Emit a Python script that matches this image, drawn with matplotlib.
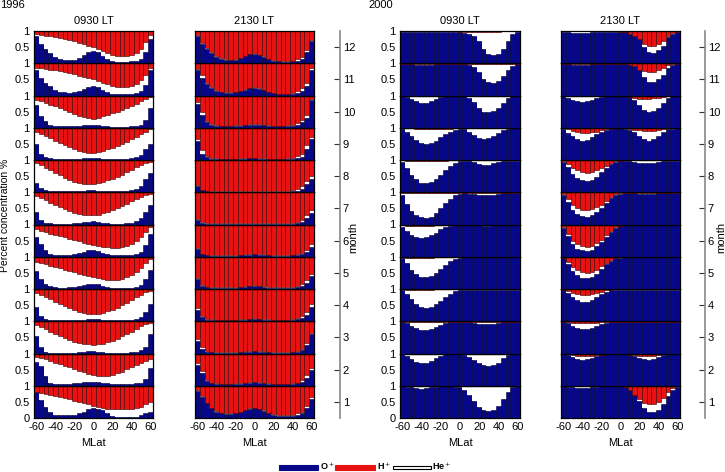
import numpy as np
import matplotlib.pyplot as plt
from matplotlib.patches import Rectangle

plt.rcParams['font.family'] = ['Liberation Sans', 'DejaVu Sans']
plt.rcParams['font.size'] = 8
plt.rcParams['axes.unicode_minus'] = False

mlat = np.arange(-60, 61, 5)
months = list(range(1, 13))

# ion percentages per month (Jan first), He+ is what is left over
o_1996_0930 = [
    [80,55,35,20,10,8,8,8,10,14,20,27,32,28,24,15,5,3,2,2,2,4,10,15,20],
    [75,60,30,10,6,5,5,6,8,10,12,12,12,11,9,7,5,4,4,5,6,8,10,20,55],
    [55,20,5,3,3,3,3,3,3,4,5,7,8,6,4,3,3,3,3,3,4,6,10,20,60],
    [45,15,6,4,3,3,3,3,3,4,5,6,7,6,5,4,3,3,3,3,4,6,12,30,55],
    [55,30,15,8,5,4,4,5,6,9,12,15,16,14,10,6,4,3,3,3,4,6,12,30,60],
    [60,40,20,10,6,5,5,6,8,12,16,20,22,18,12,8,5,4,4,4,5,8,15,35,70],
    [40,15,6,4,3,3,3,3,4,5,7,9,10,8,6,4,3,3,3,4,6,10,20,40,60],
    [30,12,6,4,3,3,3,3,3,4,5,6,6,5,4,3,3,3,3,4,6,10,20,40,60],
    [50,20,8,5,4,3,3,3,3,4,5,6,6,5,4,3,3,3,3,4,5,8,15,35,50],
    [70,35,20,10,6,5,5,5,5,6,8,9,10,8,6,4,3,3,3,3,4,6,10,25,60],
    [78,55,40,28,18,12,10,9,10,14,20,26,30,27,18,10,6,5,5,5,6,8,14,32,80],
    [84,60,45,32,20,14,10,9,10,15,25,35,38,35,22,12,8,5,5,5,6,8,12,35,75],
]
h_1996_0930 = [
    [20,23,26,29,32,35,38,42,46,50,54,58,62,66,69,71,73,73,73,73,72,70,65,58,50],
    [10,14,18,23,28,33,38,43,48,53,58,63,67,70,71,70,67,62,56,49,42,35,28,22,18],
    [12,18,25,32,39,46,52,58,63,67,70,72,73,72,69,65,60,54,47,40,32,24,16,10,5],
    [12,18,25,32,39,46,53,59,65,70,74,76,77,76,73,69,64,58,51,43,35,26,18,10,5],
    [15,20,24,28,32,36,40,44,48,52,56,60,63,66,69,71,72,71,68,63,56,46,34,20,8],
    [15,20,24,28,32,36,40,44,48,52,56,60,63,66,69,71,72,72,70,66,60,50,38,22,8],
    [12,18,25,33,40,47,53,59,64,68,71,72,71,69,65,60,54,48,42,35,28,20,14,10,5],
    [10,16,24,32,40,48,55,61,67,71,74,75,74,72,68,63,58,52,45,38,30,22,15,10,5],
    [12,18,25,32,40,47,54,60,66,71,75,78,78,76,72,67,62,56,50,43,36,28,20,12,5],
    [14,17,22,28,34,40,46,52,58,63,68,71,73,70,65,60,55,50,45,38,32,25,18,12,5],
    [15,16,18,20,22,25,28,31,34,38,42,46,50,55,60,65,70,73,75,74,70,64,52,35,15],
    [10,12,15,17,20,23,26,29,32,36,40,45,50,56,62,68,73,77,78,77,73,67,55,35,12],
]

o_1996_2130 = [
    [85,65,45,30,20,14,12,12,14,18,24,28,30,27,22,15,10,7,6,6,7,10,15,30,60],
    [65,40,15,8,5,4,4,4,5,6,8,10,11,10,8,6,4,4,4,4,5,7,12,25,50],
    [40,15,6,4,3,3,3,3,3,4,5,6,7,6,5,4,3,3,3,3,4,6,10,25,60],
    [35,12,5,4,3,3,3,3,3,4,5,6,7,6,5,4,3,3,3,3,4,6,10,20,45],
    [30,10,5,4,3,3,3,3,4,5,6,8,9,8,6,4,3,3,3,3,4,6,10,20,40],
    [25,8,4,3,3,3,3,3,3,4,5,6,7,6,5,4,3,3,3,3,4,5,8,15,30],
    [15,5,3,2,2,2,2,2,2,2,2,2,2,2,2,2,2,2,2,2,3,5,8,20,35],
    [20,6,3,2,2,2,2,2,2,2,2,2,2,2,2,2,2,2,2,2,3,5,10,25,40],
    [60,20,8,4,3,2,2,2,2,3,4,5,5,4,3,2,2,2,2,3,4,6,10,35,65],
    [75,40,18,8,5,4,4,4,5,6,8,9,10,9,7,5,4,4,4,5,6,10,17,30,85],
    [80,55,35,22,14,10,9,9,10,14,18,22,24,21,16,10,7,5,5,5,6,9,15,30,80],
    [85,60,45,32,20,14,11,10,11,16,22,28,30,26,20,12,8,6,5,5,6,8,12,35,70],
]
h_1996_2130 = [
    [12,32,53,68,78,84,86,86,84,80,74,70,68,71,76,83,88,91,92,92,90,86,80,64,35],
    [30,55,82,90,93,94,94,94,93,92,90,88,87,88,90,92,94,94,94,94,93,90,83,68,45],
    [55,80,92,94,95,95,95,95,95,94,93,92,91,92,93,94,95,95,95,95,94,91,85,68,35],
    [60,84,93,94,95,95,95,95,95,94,93,92,91,92,93,94,95,95,95,95,94,91,85,72,48],
    [66,87,93,94,95,95,95,95,94,93,92,90,89,90,92,94,95,95,95,95,94,91,85,72,52],
    [72,90,94,95,95,95,95,95,95,94,93,92,91,92,93,94,95,95,95,95,94,92,88,78,62],
    [83,93,95,96,96,96,96,96,96,96,96,96,96,96,96,96,96,96,96,95,94,92,85,70,55],
    [78,92,95,96,96,96,96,96,96,96,96,96,96,96,96,96,96,96,96,95,94,90,82,65,50],
    [35,70,88,94,95,96,96,96,96,95,94,93,93,94,95,96,96,96,96,95,93,88,80,55,30],
    [20,52,78,89,93,94,94,94,93,92,90,89,88,89,91,93,94,94,94,93,91,85,76,62,12],
    [17,37,60,75,84,89,90,90,89,85,81,77,75,78,83,89,92,94,94,94,92,86,77,60,15],
    [13,38,53,66,78,85,88,89,88,83,77,71,69,73,79,87,91,93,94,94,92,88,82,58,27],
]

o_2000_0930 = [
    [98,97,95,92,90,92,95,97,98,98,98,97,95,88,72,52,35,25,22,25,38,60,82,95,98],
    [98,92,82,74,70,72,78,86,93,97,98,98,98,96,90,80,70,63,60,63,72,85,94,98,98],
    [98,95,86,78,74,73,76,82,88,94,97,98,98,98,97,95,92,90,90,92,95,97,98,98,98],
    [96,84,68,55,45,42,45,52,62,74,85,93,97,98,98,97,97,96,96,97,98,98,98,98,98],
    [95,80,60,45,38,36,40,50,62,75,86,94,97,98,98,98,98,98,98,98,98,98,98,98,98],
    [92,80,68,62,58,60,66,75,85,92,96,97,98,98,98,98,97,96,96,97,98,98,98,98,98],
    [92,65,42,28,22,20,24,35,50,66,80,90,96,97,96,95,92,90,91,93,96,97,98,98,98],
    [95,75,55,40,30,28,32,42,55,70,82,92,96,97,96,93,88,85,86,90,95,97,98,98,98],
    [97,88,75,62,52,49,52,60,70,80,88,94,96,95,88,78,68,65,68,75,85,93,97,98,98],
    [98,95,88,82,78,78,82,88,94,97,98,98,98,97,92,80,62,50,48,52,62,78,92,97,98],
    [98,98,97,96,95,95,96,97,98,98,98,98,98,97,95,88,72,52,42,40,45,60,80,93,98],
    [98,98,98,97,96,96,97,98,98,98,98,98,97,95,92,85,68,45,30,27,30,45,70,90,98],
]
h_2000_0930 = [
    [1,1,1,1,1,1,1,1,1,1,1,1,2,2,2,2,2,2,2,2,1,1,1,1,1],
    [1,1,1,1,1,1,1,1,1,1,1,1,1,1,1,1,1,1,1,1,1,1,1,1,1],
    [1,1,1,1,1,1,1,1,1,1,1,1,1,1,1,1,1,1,1,1,1,1,1,1,1],
    [1,2,3,3,3,3,2,1,1,1,1,1,1,1,1,1,1,1,1,1,1,1,1,1,1],
    [2,3,4,4,4,4,3,2,1,1,1,1,1,1,1,1,1,1,1,1,1,1,1,1,1],
    [3,5,6,6,6,5,4,3,2,1,1,1,1,1,1,1,1,1,1,1,1,1,1,1,1],
    [1,1,1,1,1,1,1,1,1,1,1,1,1,1,1,1,1,1,1,1,1,1,1,1,1],
    [1,2,2,2,2,2,2,2,2,2,1,1,1,1,1,1,1,1,1,1,1,1,1,1,1],
    [1,1,2,3,3,3,3,3,3,3,3,2,2,2,2,2,2,2,2,1,1,1,1,1,1],
    [1,1,1,1,1,1,1,1,1,1,1,1,2,2,2,2,2,2,2,2,1,1,1,1,1],
    [1,1,1,1,1,1,1,1,1,1,1,1,1,1,1,1,1,1,1,1,1,1,1,1,1],
    [1,1,1,1,1,1,1,1,1,1,1,1,2,3,3,3,3,3,3,3,2,1,1,1,1],
]

o_2000_2130 = [
    [98,97,95,93,92,93,95,97,98,98,98,98,98,95,88,72,52,32,20,18,25,42,68,88,97],
    [98,95,88,82,80,82,86,92,96,98,98,98,98,98,96,92,86,82,80,82,88,94,97,98,98],
    [98,94,86,80,76,76,80,86,92,96,98,98,98,98,98,98,98,98,98,98,98,98,98,98,98],
    [97,88,75,65,60,60,65,74,84,92,96,98,98,98,98,98,98,98,98,98,98,98,98,98,98],
    [95,78,55,42,35,34,38,48,62,76,88,95,97,98,98,98,98,98,98,98,98,98,98,98,98],
    [90,65,40,25,20,18,22,32,46,62,78,90,95,97,98,98,98,98,98,98,98,98,98,98,98],
    [92,70,45,32,26,24,28,38,52,68,82,92,96,97,98,97,95,94,94,95,97,98,98,98,98],
    [94,78,58,45,38,35,38,48,62,76,88,95,97,98,97,95,92,90,90,92,95,97,98,98,98],
    [96,85,75,66,60,62,70,80,88,94,97,98,98,97,94,86,74,64,60,64,74,86,95,97,98],
    [97,92,86,82,80,82,86,92,96,98,98,98,98,97,94,85,70,55,50,52,62,78,92,97,98],
    [98,97,96,95,95,96,97,98,98,98,98,98,98,97,95,90,80,58,42,41,50,65,85,95,98],
    [98,97,95,93,93,95,97,98,98,98,98,98,98,96,92,85,75,50,35,33,40,55,80,90,97],
]
h_2000_2130 = [
    [1,1,1,1,1,1,1,1,1,1,1,1,2,6,15,28,42,52,58,58,50,38,20,8,2],
    [1,3,6,8,9,9,8,6,4,3,2,2,2,2,4,6,8,9,9,8,6,3,1,1,1],
    [1,3,5,6,6,6,5,4,3,2,1,1,1,1,1,1,1,1,1,1,1,1,1,1,1],
    [2,6,12,16,18,18,16,12,8,4,2,1,1,1,1,1,1,1,1,1,1,1,1,1,1],
    [4,15,32,42,48,50,47,40,30,20,10,4,2,1,1,1,1,1,1,1,1,1,1,1,1],
    [8,28,50,62,68,70,66,58,48,34,20,8,4,2,1,1,1,1,1,1,1,1,1,1,1],
    [6,22,40,50,55,55,52,45,38,28,16,6,3,2,1,1,1,1,1,1,1,1,1,1,1],
    [3,12,25,32,38,40,38,32,25,18,10,4,2,1,1,1,1,1,1,1,1,1,1,1,1],
    [2,5,10,14,15,15,14,12,8,5,3,2,1,2,4,6,8,10,10,9,6,3,1,1,1],
    [1,2,3,3,3,3,3,2,1,1,1,1,1,2,5,8,10,10,10,9,7,4,2,1,1],
    [1,1,1,1,1,1,1,1,1,1,1,1,1,2,8,15,20,25,28,27,22,15,6,2,1],
    [1,1,1,1,1,1,1,1,1,1,1,1,2,5,15,22,30,40,45,45,40,30,15,5,2],
]

blue = '#07078a'
red = '#e81212'

W, H = 725, 472
fig = plt.figure(figsize=(7.25, 4.72), dpi=100)

top, bottom = 31, 418
rh = (bottom - top) / 12

panels = [
    (34, 153, o_1996_0930, h_1996_0930, '0930 LT', True),
    (195, 314, o_1996_2130, h_1996_2130, '2130 LT', False),
    (400, 520, o_2000_0930, h_2000_0930, '0930 LT', True),
    (561, 680, o_2000_2130, h_2000_2130, '2130 LT', False),
]

for left, right, o_all, h_all, title, ylabels in panels:
    for m in months:
        r = 12 - m
        y0 = top + r * rh
        ax = fig.add_axes([left / W, 1 - (y0 + rh) / H, (right - left) / W, rh / H])
        o = np.array(o_all[m - 1]) / 100
        h = np.array(h_all[m - 1]) / 100
        he = np.clip(1 - o - h, 0, None)
        ax.bar(mlat, o, width=5, color=blue, edgecolor='#000033', linewidth=0.4)
        ax.bar(mlat, he, width=5, bottom=o, color='white', linewidth=0)
        ax.bar(mlat, h, width=5, bottom=o + he, color=red, edgecolor='#3a0000', linewidth=0.4)
        ax.set_xlim(-62.5, 62.5)
        ax.set_ylim(0, 1)
        for s in ax.spines.values():
            s.set_linewidth(0.9)
        ax.tick_params(length=0, pad=3, labelsize=8)
        if m == 1:
            ax.set_xticks([-60, -40, -20, 0, 20, 40, 60])
            ax.set_xlabel('MLat', fontsize=8, labelpad=4)
        else:
            ax.set_xticks([])
        if ylabels:
            if m == 1:
                ax.set_yticks([0, 0.5, 1])
                ax.set_yticklabels(['0', '0.5', '1'])
            else:
                ax.set_yticks([0.5, 1])
                ax.set_yticklabels(['0.5', '1'])
        else:
            ax.set_yticks([])
        if m == 12:
            ax.set_title(title, fontsize=8, pad=5)

# month axes
for xm, xl in [(340, 353), (705, 721)]:
    axm = fig.add_axes([xm / W, 1 - bottom / H, 0.0001, (bottom - top) / H])
    for k in ['left', 'top', 'bottom']:
        axm.spines[k].set_visible(False)
    axm.spines['right'].set_color('#888888')
    axm.spines['right'].set_linewidth(1.2)
    axm.patch.set_visible(False)
    axm.set_xticks([])
    axm.set_ylim(0.5, 12.5)
    axm.yaxis.tick_right()
    axm.set_yticks(months)
    axm.tick_params(axis='y', direction='in', length=4, color='#333333', labelsize=8, pad=2)
    fig.text(xl / W, 1 - 237 / H, 'month', rotation=90, ha='center', va='center', fontsize=8)

fig.text(0 / W, 1 - 5 / H, '1996', ha='left', va='center', fontsize=8)
fig.text(368 / W, 1 - 5 / H, '2000', ha='left', va='center', fontsize=8)
fig.text(5 / W, 1 - 215 / H, 'Percent concentration %', rotation=90, ha='center', va='center', fontsize=7.5)

# legend
legend_items = [(279, 318, 465, 470, blue, blue, 'O$^+$', 320),
                (335, 375, 465, 470, red, red, 'H$^+$', 377),
                (393, 431, 466, 469, 'white', 'black', 'He$^+$', 432)]
for x0, x1, ya, yb, fc, ec, lab, xt in legend_items:
    fig.add_artist(Rectangle((x0 / W, 1 - yb / H), (x1 - x0) / W, (yb - ya) / H,
                             transform=fig.transFigure, facecolor=fc, edgecolor=ec, linewidth=0.8))
    fig.text(xt / W, 1 - 470 / H, lab, ha='left', va='baseline', fontsize=6.5, fontweight='bold')

fig.savefig('out.png', dpi=100)
